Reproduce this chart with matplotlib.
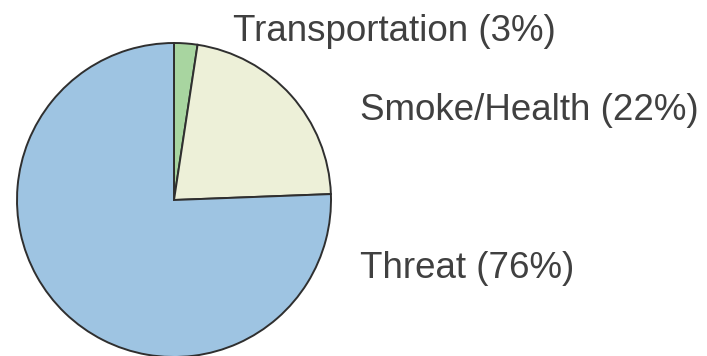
import matplotlib.pyplot as plt

# Shares, clockwise from 12 o'clock
labels = ["Transportation (3%)", "Smoke/Health (22%)", "Threat (76%)"]
shares = [2.4, 22.0, 75.6]
colors = ["#a8d5a0", "#edf0d8", "#9ec4e2"]

# Label anchors in pie radius units (left, baseline)
label_pos = [(0.376, 1.01), (1.185, 0.51), (1.185, -0.497)]

plt.rcParams["font.family"] = ["Liberation Sans", "DejaVu Sans"]

fig = plt.figure(figsize=(7.07, 3.56), dpi=100)
ax = fig.add_axes([0, 0, 1, 1])

ax.pie(shares, colors=colors, startangle=90, counterclock=False,
       radius=1.0, wedgeprops={"edgecolor": "#2f2f2f", "linewidth": 1.4})

for text, (x, y) in zip(labels, label_pos):
    ax.text(x, y, text, ha="left", va="baseline", fontsize=26.5,
            color="#404040")

# 1 unit = 157 px, pie centre at (174, 200) px
ax.set_xlim(-174 / 157, (707 - 174) / 157)
ax.set_ylim(-(356 - 200) / 157, 200 / 157)
ax.set_aspect("auto")
ax.axis("off")

fig.savefig("out.png", dpi=100)
plt.close(fig)
